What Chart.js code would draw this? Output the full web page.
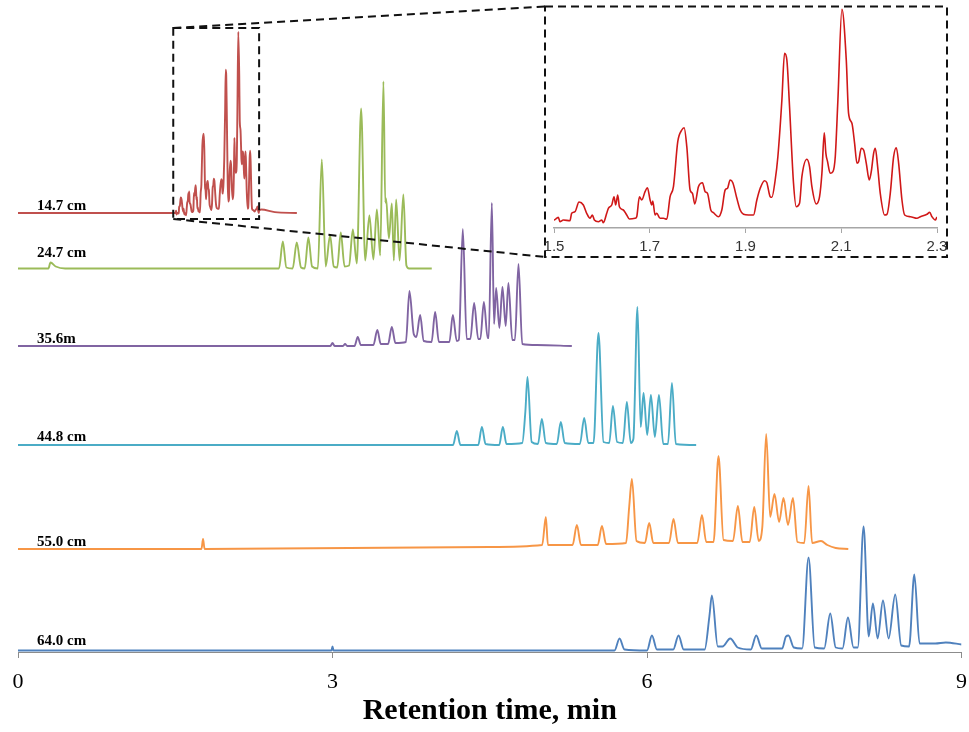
<!DOCTYPE html>
<html>
<head>
<meta charset="utf-8">
<script src="https://cdn.jsdelivr.net/npm/chart.js@4.4.1/dist/chart.umd.min.js"></script>
<style>
    body { margin: 0; background: #fff; overflow: hidden; }
    #wrap { position: relative; width: 969px; height: 732px; overflow: hidden; }
    #main { position: absolute; left: 0; top: 0; }
    #inset { position: absolute; left: 525px; top: 0; }
</style>
</head>
<body>
<div id="wrap">
    <canvas id="main" width="978" height="732"></canvas>
    <canvas id="inset" width="435" height="262"></canvas>
</div>
<script>
// ===== data: [retention time (min), signal] =====
const trace147 = [[0,0],[1.5,0],[1.5056,1.7],[1.509,2.7],[1.5125,-1.7],[1.5195,0],[1.5334,-0.7],[1.5369,6.7],[1.5439,8.3],[1.5523,18],[1.5613,15],[1.5683,6.7],[1.5753,1.7],[1.5801,5],[1.5843,0],[1.5927,-1.7],[1.5997,0],[1.6031,-2.7],[1.6101,6.7],[1.6136,11.7],[1.6206,15],[1.6254,23.3],[1.6289,15],[1.6331,25],[1.6366,13.3],[1.6449,10],[1.6519,5],[1.6575,1],[1.6693,1.7],[1.6728,3.3],[1.6784,23.3],[1.6833,20],[1.6902,28.3],[1.6951,32.3],[1.7007,20],[1.7042,15],[1.7063,19],[1.7111,5],[1.7146,6.7],[1.7216,1.7],[1.7286,1.7],[1.7355,0.7],[1.7425,23.3],[1.7495,33.3],[1.7585,78.3],[1.7669,90],[1.7718,92.3],[1.7774,73.3],[1.7843,30],[1.7892,26.7],[1.7941,16],[1.8017,33.3],[1.8101,37.3],[1.8157,28.3],[1.8206,26.7],[1.8275,10],[1.8331,7.3],[1.8436,3.3],[1.8505,10],[1.8575,30],[1.8624,31.7],[1.8679,40],[1.8735,37.3],[1.8819,21.7],[1.8889,10],[1.8958,5.7],[1.9063,5],[1.9167,5],[1.9237,20],[1.9307,31.7],[1.9397,39.3],[1.9446,37.3],[1.9516,23.3],[1.9551,22.7],[1.962,40],[1.9676,63.3],[1.976,120],[1.9815,166.7],[1.9864,160],[1.992,113.3],[2.0003,36.7],[2.0059,13.3],[2.0129,16.7],[2.0178,43.3],[2.0282,60.7],[2.0338,53.3],[2.0387,33.3],[2.0477,16],[2.0547,23.3],[2.0596,46.7],[2.0645,87.3],[2.0679,66.7],[2.0714,58.3],[2.077,46.7],[2.0826,48.3],[2.0875,63.3],[2.093,120],[2.1014,210.7],[2.1105,160],[2.1153,106.7],[2.1223,96.7],[2.1279,76.7],[2.1328,56.7],[2.1362,58.3],[2.1418,71.7],[2.1467,70],[2.1523,56.7],[2.1585,40],[2.1627,48.3],[2.1676,66.7],[2.1711,71.7],[2.176,53.3],[2.1815,26.7],[2.1906,5],[2.1955,5.7],[2.2024,26.7],[2.2094,63.3],[2.215,72.3],[2.2199,56.7],[2.2268,20],[2.2324,5],[2.2443,3.3],[2.2582,1.7],[2.2652,3.3],[2.2791,5.7],[2.2847,7.7],[2.2895,3.3],[2.2965,0],[2.3,2.7],[2.32,4],[2.45,1],[2.66,0]];

const trace247 = [[0,0],[0.29,0],[0.31,6],[0.36,2],[0.45,0],[2.49,0],[2.526,27],[2.56,1],[2.62,0],[2.659,26],[2.7,1],[2.735,0],[2.77,31],[2.805,2],[2.86,0],[2.898,109],[2.935,2],[2.977,33],[3.012,2],[3.045,1],[3.079,36],[3.115,2],[3.158,3],[3.194,39],[3.232,5],[3.273,160],[3.312,8],[3.352,53],[3.39,9],[3.423,59],[3.455,13],[3.486,187],[3.503,66],[3.511,70],[3.538,30],[3.566,65],[3.585,8],[3.607,69],[3.64,8],[3.676,74],[3.705,3],[3.73,0],[3.947,0]];

const trace356 = [[0,0],[2.98,0],[3.0,3],[3.02,0],[3.1,0],[3.12,2],[3.14,0],[3.21,0],[3.241,9],[3.27,1],[3.39,1],[3.428,16],[3.46,2],[3.53,2],[3.566,19],[3.6,3],[3.7,4],[3.734,55],[3.775,12],[3.8,9],[3.836,31],[3.87,5],[3.945,4],[3.979,34],[4.015,4],[4.115,4],[4.148,31],[4.185,5],[4.205,6],[4.243,117],[4.28,7],[4.315,7],[4.351,43],[4.39,7],[4.41,7],[4.444,44],[4.48,8],[4.49,8],[4.52,143],[4.541,22],[4.561,58],[4.592,18],[4.621,59],[4.652,20],[4.678,63],[4.715,6],[4.74,6],[4.774,82],[4.81,2],[4.95,1],[5.283,0]];

const trace448 = [[0,0],[4.15,0],[4.186,14],[4.22,0],[4.39,0],[4.425,18],[4.46,1],[4.59,0],[4.625,18],[4.66,1],[4.81,2],[4.84,34],[4.86,68],[4.9,3],[4.96,1],[4.997,26],[5.035,2],[5.14,1],[5.178,23],[5.215,2],[5.36,1],[5.401,27],[5.44,2],[5.49,2],[5.537,112],[5.585,3],[5.64,2],[5.675,39],[5.715,3],[5.77,2],[5.808,43],[5.845,2],[5.87,6],[5.909,138],[5.94,18],[5.967,52],[6.002,10],[6.037,50],[6.075,8],[6.114,50],[6.155,1],[6.2,1],[6.238,62],[6.275,1],[6.469,0]];

const trace550 = [[0,0],[1.75,0],[1.765,10],[1.78,0],[4.5,2],[5.0,4],[5.035,32],[5.055,4],[5.29,4],[5.331,24],[5.37,4],[5.53,4],[5.57,23],[5.61,5],[5.8,6],[5.83,42],[5.856,70],[5.9,8],[5.98,6],[6.021,26],[6.06,6],[6.21,6],[6.253,30],[6.295,6],[6.48,6],[6.524,34],[6.565,7],[6.635,7],[6.682,93],[6.73,9],[6.82,8],[6.867,43],[6.91,7],[6.98,7],[7.023,42],[7.065,8],[7.1,22],[7.137,115],[7.175,32],[7.216,55],[7.26,27],[7.302,51],[7.345,24],[7.392,51],[7.435,7],[7.5,6],[7.541,63],[7.575,6],[7.66,8],[7.72,4],[7.8,1],[7.92,0]];

const trace640 = [[0,0],[2.99,0],[3.0,4],[3.01,0],[5.69,0],[5.738,12],[5.785,1],[6.0,0],[6.047,15],[6.095,1],[6.25,1],[6.301,15],[6.35,1],[6.55,1],[6.595,34],[6.619,55],[6.675,4],[6.72,4],[6.794,12],[6.865,3],[6.99,1],[7.042,15],[7.095,2],[7.29,2],[7.325,14],[7.35,15],[7.4,3],[7.48,2],[7.541,93],[7.6,3],[7.69,2],[7.748,37],[7.8,3],[7.865,2],[7.917,33],[7.97,3],[8.01,3],[8.066,124],[8.115,14],[8.155,47],[8.2,12],[8.251,50],[8.305,12],[8.368,56],[8.425,5],[8.5,4],[8.55,76],[8.6,7],[8.75,7],[8.85,8],[9.0,6]];

const traceNames = ['14.7 cm', '24.7 cm', '35.6m', '44.8 cm', '55.0 cm', '64.0 cm'];
const mainTicks = [0, 3, 6, 9];
const insetTicks = [1.5, 1.7, 1.9, 2.1, 2.3];

// ===== layout (stacking offsets in px above the axis, label gaps) =====
const traceStyle = [
    { data: trace147, color: '#C0504D', base: 439,   scale: 0.86, gap: 3 },
    { data: trace247, color: '#9BBB59', base: 383.5, scale: 1,    gap: 12 },
    { data: trace356, color: '#8064A2', base: 306,   scale: 1,    gap: 3 },
    { data: trace448, color: '#4BACC6', base: 207,   scale: 1,    gap: 4 },
    { data: trace550, color: '#F79646', base: 103,   scale: 1,    gap: 3 },
    { data: trace640, color: '#4F81BD', base: 1.5,   scale: 1,    gap: 5.5 }
];
const insetRect = { x1: 545, y1: 6.5, x2: 947, y2: 257 };
const zoomBox = { y1: 28, y2: 219 };

// nom des traces + cadres pointillés
const overlayPlugin = {
    id: 'overlay',
    afterDatasetsDraw(chart) {
        const { ctx } = chart;
        const xs = chart.scales.x, ys = chart.scales.y;
        ctx.save();
        ctx.font = 'bold 15px "Liberation Serif"';
        ctx.fillStyle = '#000';
        ctx.textBaseline = 'alphabetic';
        traceStyle.forEach((tr, i) => {
            ctx.fillText(traceNames[i], 37, ys.getPixelForValue(tr.base) - tr.gap);
        });

        const bx1 = xs.getPixelForValue(insetTicks[0]) - 2;
        const bx2 = xs.getPixelForValue(insetTicks[insetTicks.length - 1]);
        ctx.strokeStyle = '#111';
        ctx.lineWidth = 2;
        ctx.setLineDash([8, 5]);
        ctx.strokeRect(bx1, zoomBox.y1, bx2 - bx1, zoomBox.y2 - zoomBox.y1);
        ctx.strokeRect(insetRect.x1, insetRect.y1, insetRect.x2 - insetRect.x1, insetRect.y2 - insetRect.y1);
        ctx.beginPath();
        ctx.moveTo(bx1, zoomBox.y1);
        ctx.lineTo(insetRect.x1, insetRect.y1);
        ctx.moveTo(bx1, zoomBox.y2);
        ctx.lineTo(insetRect.x1, insetRect.y2);
        ctx.stroke();
        ctx.restore();
    }
};

new Chart(document.getElementById('main'), {
    type: 'line',
    data: {
        datasets: traceStyle.map((tr, i) => ({
            label: traceNames[i],
            data: tr.data.map(p => ({ x: p[0], y: tr.base + p[1] * tr.scale })),
            borderColor: tr.color,
            borderWidth: 1.9,
            pointRadius: 0,
            cubicInterpolationMode: 'monotone',
            fill: false
        }))
    },
    options: {
        responsive: false,
        animation: false,
        events: [],
        layout: { padding: { left: 18, right: 0, top: 0, bottom: 0 } },
        plugins: { legend: { display: false }, tooltip: { enabled: false } },
        scales: {
            x: {
                type: 'linear',
                min: 0,
                max: 9,
                afterBuildTicks: s => { s.ticks = mainTicks.map(v => ({ value: v })); },
                afterFit: s => { s.height = 80; },
                ticks: { color: '#000', padding: 11, font: { family: '"Liberation Serif"', size: 22 } },
                grid: { drawOnChartArea: false, drawTicks: true, tickLength: 6, color: '#8c8c8c' },
                border: { color: '#8c8c8c', width: 1 },
                title: {
                    display: true,
                    text: 'Retention time, min',
                    color: '#000',
                    font: { family: '"Liberation Serif"', size: 30, weight: 'bold' },
                    padding: { top: 0, bottom: 3 }
                }
            },
            y: { display: false, min: 0, max: 652 }
        }
    },
    plugins: [overlayPlugin]
});

// encart agrandi 1.5 - 2.3 min
const insetBase = 8;
new Chart(document.getElementById('inset'), {
    type: 'line',
    data: {
        datasets: [{
            data: trace147.map(p => ({ x: p[0], y: insetBase + p[1] })),
            borderColor: '#D01818',
            borderWidth: 1.6,
            pointRadius: 0,
            cubicInterpolationMode: 'monotone',
            fill: false
        }]
    },
    options: {
        responsive: false,
        animation: false,
        events: [],
        layout: { padding: { left: 29, right: 23, top: 0, bottom: 0 } },
        plugins: { legend: { display: false }, tooltip: { enabled: false } },
        scales: {
            x: {
                type: 'linear',
                min: 1.5,
                max: 2.3,
                afterBuildTicks: s => { s.ticks = insetTicks.map(v => ({ value: v })); },
                afterFit: s => { s.height = 34; },
                ticks: { color: '#333', padding: 5, font: { family: '"Liberation Sans"', size: 15 }, callback: v => v.toFixed(1) },
                grid: { drawOnChartArea: false, drawTicks: true, tickLength: 5, color: '#a6a6a6' },
                border: { color: '#a6a6a6', width: 1.5 }
            },
            y: { display: false, min: 0, max: 228 }
        }
    }
});
</script>
</body>
</html>
